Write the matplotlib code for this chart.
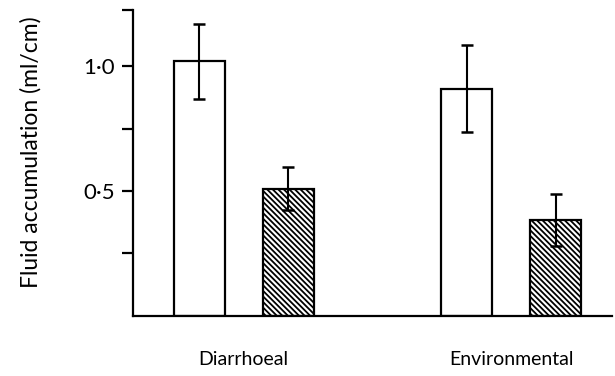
import matplotlib
matplotlib.use("Agg")
import matplotlib.pyplot as plt

# data
groups = ["Diarrhoeal", "Environmental"]
open_vals = [1.02, 0.91]
open_err = [0.15, 0.175]
hatch_vals = [0.51, 0.385]
hatch_err = [0.085, 0.105]

plt.rcParams['font.family'] = ['Lato', 'DejaVu Sans']
plt.rcParams['hatch.linewidth'] = 1.3

fig = plt.figure(figsize=(6.15, 3.76), dpi=100)
ax = fig.add_axes([0.216, 0.160, 0.779, 0.813])

open_x = [0, 5.25]
hatch_x = [1.75, 7.0]

ax.bar(open_x, open_vals, width=1.0, color="white", edgecolor="black", linewidth=1.6,
       yerr=open_err, error_kw=dict(ecolor="black", elinewidth=1.5, capsize=4, capthick=1.8))
ax.bar(hatch_x, hatch_vals, width=1.0, color="white", edgecolor="black", linewidth=1.6,
       hatch="\\" * 6,
       yerr=hatch_err, error_kw=dict(ecolor="black", elinewidth=1.5, capsize=4, capthick=1.8))

ax.set_xlim(-1.3, 8.1)
ax.set_ylim(0, 1.225)

ax.spines['top'].set_visible(False)
ax.spines['right'].set_visible(False)
ax.spines['left'].set_linewidth(1.6)
ax.spines['bottom'].set_linewidth(1.6)

ax.set_yticks([0.25, 0.5, 0.75, 1.0, 1.225])
ax.set_yticklabels(["", "0\u00b75", "", "1\u00b70", ""], fontsize=16)
ax.tick_params(axis='y', length=8, width=1.6, pad=5)

centers = [(a + b) / 2 for a, b in zip(open_x, hatch_x)]
ax.set_xticks(centers)
ax.set_xticklabels(groups, fontsize=14)
ax.tick_params(axis='x', length=0, pad=25)

ax.set_ylabel("Fluid accumulation (ml/cm)", fontsize=16.5)
ax.yaxis.set_label_coords(-0.19, 0.535)

fig.savefig("out.png", dpi=100)
